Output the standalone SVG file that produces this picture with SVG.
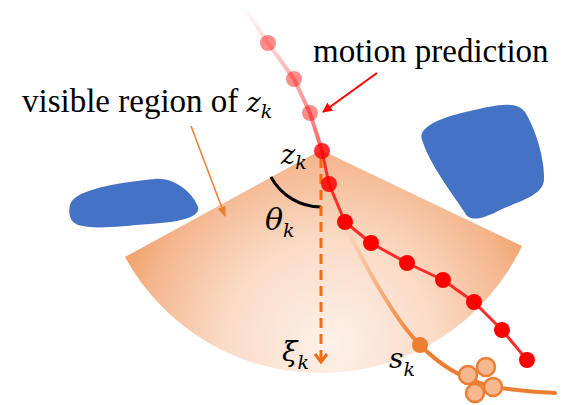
<svg xmlns="http://www.w3.org/2000/svg" width="582" height="405" viewBox="0 0 582 405">
  <style>
    .lbl { font-family: "Liberation Serif", "Times New Roman", serif; font-size: 33px; fill: #000; }
    .math { font-family: "DejaVu Serif", "Liberation Serif", serif; font-style: italic; fill: #000; }
    .blob { fill: #4472c4; }
    .rdot { fill: #ff0000; }
    .fdot { fill: #ff0000; fill-opacity: 0.45; }
    .hollow { fill: #f5b890; stroke: #ed7d31; stroke-width: 2.5; }
  </style>
  <defs>
    <radialGradient id="secGrad" gradientUnits="userSpaceOnUse" cx="330" cy="345" r="235">
      <stop offset="0" stop-color="#fdf1e9"/>
      <stop offset="0.45" stop-color="#fadbc6"/>
      <stop offset="0.8" stop-color="#f4b68d"/>
      <stop offset="1" stop-color="#ef9a5f"/>
    </radialGradient>
    <linearGradient id="fadeRed" gradientUnits="userSpaceOnUse" x1="242" y1="5" x2="322" y2="151">
      <stop offset="0" stop-color="#ff0000" stop-opacity="0"/>
      <stop offset="1" stop-color="#ff0000" stop-opacity="0.6"/>
    </linearGradient>
    <linearGradient id="fadeOrange" gradientUnits="userSpaceOnUse" x1="345" y1="225" x2="420" y2="345">
      <stop offset="0" stop-color="#ed7d31" stop-opacity="0"/>
      <stop offset="1" stop-color="#ed7d31" stop-opacity="1"/>
    </linearGradient>
    <marker id="arrRed" viewBox="0 0 10 10" refX="9" refY="5" markerWidth="5" markerHeight="5" orient="auto" markerUnits="strokeWidth">
      <path d="M0,0 L10,5 L0,10 Z" fill="#ff0000"/>
    </marker>
    <marker id="arrOrange" viewBox="0 0 10 10" refX="9" refY="5" markerWidth="7" markerHeight="7" orient="auto" markerUnits="strokeWidth">
      <path d="M0,1 L10,5 L0,9 Z" fill="#ed7d31"/>
    </marker>
  </defs>

  <g id="sector">
    <path d="M321,150 L125,257 A223,223 0 0 0 522,246 Z" fill="url(#secGrad)"/>
  </g>

  <g id="obstacle-left">
    <path class="blob" d="M70,205 C73,191 112,183 155,179 C176,177 194,195 198,207 C201,217 180,222 150,224 C120,226 95,230 78,225 C70,222 68,213 70,205 Z"/>
  </g>
  <g id="obstacle-right">
    <path class="blob" d="M422,140 C417,127 442,117 470,111 C495,105 516,100 525,112 C536,130 545,160 544,180 C543,195 520,201 500,210 C485,218 470,223 465,213 C450,190 430,165 422,140 Z"/>
  </g>

  <g id="connectors">
    <path d="M271,177 A57,57 0 0 0 321,207" fill="none" stroke="#000" stroke-width="3"/>
    <line x1="321" y1="158" x2="321" y2="360" stroke="#f36b12" stroke-width="3" stroke-dasharray="10,6"/>
    <polyline points="315,354 321,362 327,354" fill="none" stroke="#f36b12" stroke-width="3"/>
    <polyline points="242,5 268,43 294,79 310,113 322,151" fill="none" stroke="url(#fadeRed)" stroke-width="4" stroke-linejoin="round"/>
    <polyline points="322,151 329,184 345,222 371,243 407,263 443,280 474,302 502,330 527,360" fill="none" stroke="#ff2a2a" stroke-width="3" stroke-linejoin="round"/>
    <path d="M345,225 C365,265 395,320 420,345 C440,365 460,378 490,386 C515,391 540,392 555,393" fill="none" stroke="url(#fadeOrange)" stroke-width="4" stroke-linecap="round"/>
    <line x1="377" y1="73" x2="323" y2="112" stroke="#ff0000" stroke-width="2" marker-end="url(#arrRed)"/>
    <line x1="191" y1="126" x2="225" y2="216" stroke="#ed7d31" stroke-width="1.5" marker-end="url(#arrOrange)"/>
  </g>

  <g id="past-dots">
    <circle class="fdot" cx="268" cy="43" r="8"/>
    <circle class="fdot" cx="294" cy="79" r="8"/>
    <circle class="fdot" cx="310" cy="113" r="8"/>
  </g>
  <g id="prediction-dots">
    <circle class="rdot" cx="322" cy="151" r="8" fill-opacity="0.8"/>
    <circle class="rdot" cx="329" cy="184" r="8" fill-opacity="0.85"/>
    <circle class="rdot" cx="345" cy="222" r="8"/>
    <circle class="rdot" cx="371" cy="243" r="8"/>
    <circle class="rdot" cx="407" cy="263" r="8"/>
    <circle class="rdot" cx="443" cy="280" r="8"/>
    <circle class="rdot" cx="474" cy="302" r="8"/>
    <circle class="rdot" cx="502" cy="330" r="8"/>
    <circle class="rdot" cx="527" cy="360" r="8"/>
  </g>
  <g id="s-point">
    <circle cx="420" cy="345" r="8" fill="#ed7d31"/>
  </g>
  <g id="candidates">
    <circle class="hollow" cx="468" cy="375" r="9"/>
    <circle class="hollow" cx="486" cy="367" r="9"/>
    <circle class="hollow" cx="493" cy="387" r="9"/>
    <circle class="hollow" cx="475" cy="393" r="9"/>
  </g>

  <g id="labels">
    <text class="lbl" x="313" y="62">motion prediction</text>
    <text class="lbl" x="22" y="112">visible region of <tspan class="math" font-size="27">z</tspan><tspan class="math" font-size="19" dy="6">k</tspan></text>
    <text class="math" x="281" y="164" font-size="27">z<tspan font-size="19" dy="5">k</tspan></text>
    <text class="math" x="265" y="230" font-size="30">θ<tspan font-size="19" dy="7">k</tspan></text>
    <text class="math" x="282" y="361" font-size="28">ξ<tspan font-size="19" dy="8">k</tspan></text>
    <text class="math" x="389" y="368" font-size="28">s<tspan font-size="19" dy="8">k</tspan></text>
  </g>
</svg>
